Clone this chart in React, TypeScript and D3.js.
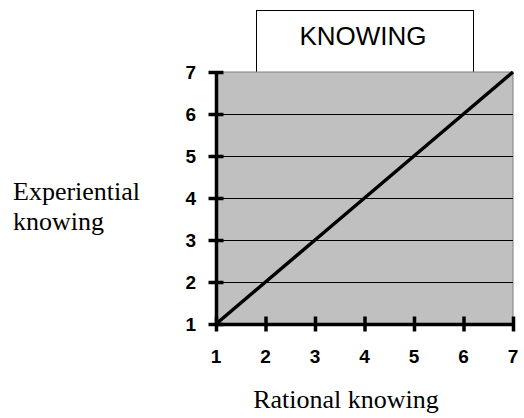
import { useEffect, useRef } from 'react';
import * as d3 from 'd3';

const rationalKnowing = [1, 2, 3, 4, 5, 6, 7];
const experientialKnowing = [1, 2, 3, 4, 5, 6, 7];
const tickValues = [1, 2, 3, 4, 5, 6, 7];
const title = 'KNOWING';
const xTitle = 'Rational knowing';
const yTitle = ['Experiential', 'knowing'];

function App() {
  const svgRef = useRef<SVGSVGElement>(null);

  useEffect(() => {
    const svg = d3.select(svgRef.current);
    svg.selectAll('*').remove();

    const left = 216;
    const right = 513;
    const top = 72;
    const bottom = 324;

    const x = d3.scaleLinear().domain([1, 7]).range([left, right]);
    const y = d3.scaleLinear().domain([1, 7]).range([bottom, top]);

    // Title box
    svg
      .append('rect')
      .attr('x', 256.5)
      .attr('y', 10.5)
      .attr('width', 217)
      .attr('height', 62)
      .attr('fill', '#fff')
      .attr('stroke', '#000')
      .attr('stroke-width', 1);
    svg
      .append('text')
      .attr('x', 363)
      .attr('y', 45)
      .attr('text-anchor', 'middle')
      .style('font-family', 'Arial, "Liberation Sans", sans-serif')
      .style('font-size', '26px')
      .text(title);

    // Plot area
    svg
      .append('rect')
      .attr('x', left)
      .attr('y', top)
      .attr('width', right - left)
      .attr('height', bottom - top)
      .attr('fill', '#c0c0c0')
      .attr('stroke', '#808080')
      .attr('stroke-width', 1);

    // Gridlines
    svg
      .append('g')
      .selectAll('line')
      .data(tickValues.slice(1, -1))
      .enter()
      .append('line')
      .attr('x1', left)
      .attr('x2', right)
      .attr('y1', (d) => Math.round(y(d)) + 0.5)
      .attr('y2', (d) => Math.round(y(d)) + 0.5)
      .attr('stroke', '#000')
      .attr('stroke-width', 1);

    // Axes
    const yAxis = svg
      .append('g')
      .attr('transform', `translate(${left},0)`)
      .call(d3.axisLeft(y).tickValues(tickValues).tickSizeInner(7).tickSizeOuter(0).tickFormat(() => ''));
    yAxis.select('.domain').attr('stroke-width', 3.5);
    yAxis
      .selectAll('.tick line')
      .attr('x1', 7.5)
      .attr('x2', -7.5)
      .attr('stroke-width', 3.5);

    const xAxis = svg
      .append('g')
      .attr('transform', `translate(0,${bottom})`)
      .call(d3.axisBottom(x).tickValues(tickValues).tickSizeInner(7).tickSizeOuter(0).tickFormat(() => ''));
    xAxis.select('.domain').attr('stroke-width', 3.5);
    xAxis
      .selectAll('.tick line')
      .attr('y1', -7.5)
      .attr('y2', 7.5)
      .attr('stroke-width', 3.5);

    // Tick labels
    svg
      .append('g')
      .selectAll('text')
      .data(tickValues)
      .enter()
      .append('text')
      .attr('x', 196)
      .attr('y', (d) => y(d) + 6.5)
      .attr('text-anchor', 'end')
      .style('font-family', 'Arial, "Liberation Sans", sans-serif')
      .style('font-weight', 'bold')
      .style('font-size', '19px')
      .text((d) => d);

    svg
      .append('g')
      .selectAll('text')
      .data(tickValues)
      .enter()
      .append('text')
      .attr('x', (d) => x(d))
      .attr('y', 363)
      .attr('text-anchor', 'middle')
      .style('font-family', 'Arial, "Liberation Sans", sans-serif')
      .style('font-weight', 'bold')
      .style('font-size', '19px')
      .text((d) => d);

    // Data line
    const line = d3
      .line<number>()
      .x((d, i) => x(rationalKnowing[i]))
      .y((d) => y(d));
    svg
      .append('path')
      .datum(experientialKnowing)
      .attr('d', line)
      .attr('fill', 'none')
      .attr('stroke', '#000')
      .attr('stroke-width', 3.5);

    // Axis titles
    svg
      .append('text')
      .attr('x', 346)
      .attr('y', 408)
      .attr('text-anchor', 'middle')
      .style('font-family', '"Times New Roman", "Liberation Serif", serif')
      .style('font-size', '26px')
      .text(xTitle);

    svg
      .append('g')
      .selectAll('text')
      .data(yTitle)
      .enter()
      .append('text')
      .attr('x', 13)
      .attr('y', (d, i) => 200 + i * 30)
      .style('font-family', '"Times New Roman", "Liberation Serif", serif')
      .style('font-size', '26px')
      .text((d) => d);
  }, []);

  return (
    <svg
      ref={svgRef}
      width={524}
      height={418}
      style={{ position: 'absolute', left: 0, top: 0, background: '#fff' }}
    />
  );
}

export default App;
